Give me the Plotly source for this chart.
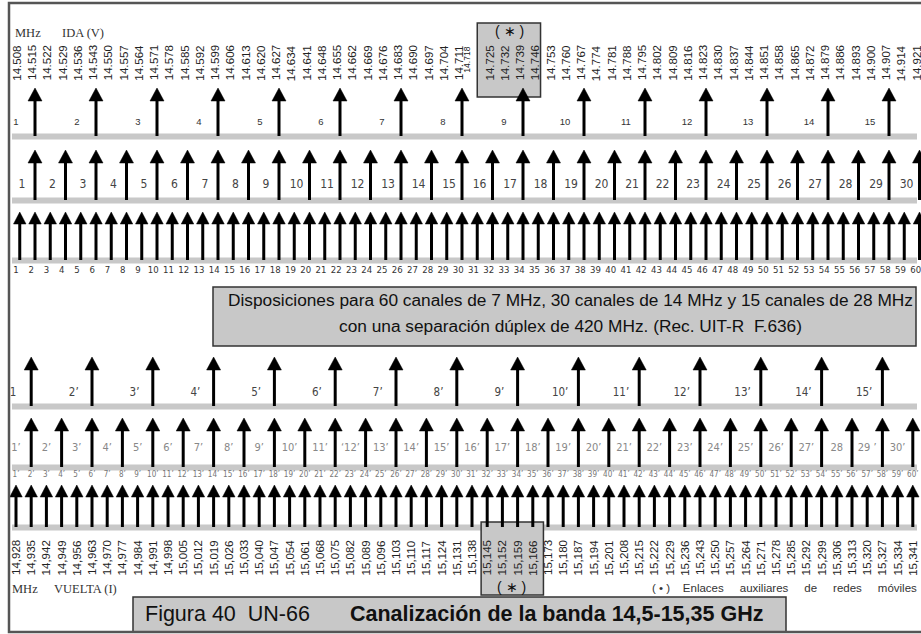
import plotly.graph_objects as go

# DATA ########################################################################
# grid of 7 MHz slots, go (IDA) and return (VUELTA) half-bands, GHz
ida_freq = [14.508, 14.515, 14.522, 14.529, 14.536, 14.543, 14.550, 14.557, 14.564, 14.571,
            14.578, 14.585, 14.592, 14.599, 14.606, 14.613, 14.620, 14.627, 14.634, 14.641,
            14.648, 14.655, 14.662, 14.669, 14.676, 14.683, 14.690, 14.697, 14.704, 14.711,
            14.718, 14.725, 14.732, 14.739, 14.746, 14.753, 14.760, 14.767, 14.774, 14.781,
            14.788, 14.795, 14.802, 14.809, 14.816, 14.823, 14.830, 14.837, 14.844, 14.851,
            14.858, 14.865, 14.872, 14.879, 14.886, 14.893, 14.900, 14.907, 14.914, 14.921]
vuelta_freq = [14.928, 14.935, 14.942, 14.949, 14.956, 14.963, 14.970, 14.977, 14.984, 14.991,
               14.998, 15.005, 15.012, 15.019, 15.026, 15.033, 15.040, 15.047, 15.054, 15.061,
               15.068, 15.075, 15.082, 15.089, 15.096, 15.103, 15.110, 15.117, 15.124, 15.131,
               15.138, 15.145, 15.152, 15.159, 15.166, 15.173, 15.180, 15.187, 15.194, 15.201,
               15.208, 15.215, 15.222, 15.229, 15.236, 15.243, 15.250, 15.257, 15.264, 15.271,
               15.278, 15.285, 15.292, 15.299, 15.306, 15.313, 15.320, 15.327, 15.334, 15.341]

# channel centres
ida_28 = [14.515, 14.543, 14.571, 14.599, 14.627, 14.655, 14.683, 14.711,
          14.739, 14.767, 14.795, 14.823, 14.851, 14.879, 14.907]
ida_14 = [14.515, 14.529, 14.543, 14.557, 14.571, 14.585, 14.599, 14.613, 14.627, 14.641,
          14.655, 14.669, 14.683, 14.697, 14.711, 14.725, 14.739, 14.753, 14.767, 14.781,
          14.795, 14.809, 14.823, 14.837, 14.851, 14.865, 14.879, 14.893, 14.907, 14.921]
ida_7 = ida_freq
vuelta_28 = [14.935, 14.963, 14.991, 15.019, 15.047, 15.075, 15.103, 15.131,
             15.159, 15.187, 15.215, 15.243, 15.271, 15.299, 15.327]
vuelta_14 = [14.935, 14.949, 14.963, 14.977, 14.991, 15.005, 15.019, 15.033, 15.047, 15.061,
             15.075, 15.089, 15.103, 15.117, 15.131, 15.145, 15.159, 15.173, 15.187, 15.201,
             15.215, 15.229, 15.243, 15.257, 15.271, 15.285, 15.299, 15.313, 15.327, 15.341]
vuelta_7 = vuelta_freq

# auxiliary links (*)
aux_ida = [14.725, 14.732, 14.739, 14.746]
aux_vuelta = [15.145, 15.152, 15.159, 15.166]

# channel labels
lab_28 = [str(n) for n in range(1, 16)]
lab_14 = [str(n) for n in range(1, 31)]
lab_7 = [str(n) for n in range(1, 61)]
lab_28_v = ["1", "2’", "3’", "4’", "5’", "6’", "7’", "8’", "9’", "10’", "11’", "12’", "13’", "14’", "15’"]
lab_14_v = ["1’", "2’", "3’", "4’", "5’", "6’", "7’", "8’", "9’", "10’", "11’", "‘12’", "13’", "14’", "15’",
            "16’", "17’", "18’", "19’", "20’", "21’", "22’", "23’", "24’", "25’", "26’", "27’", "28", "29 ’", "30’"]
lab_7_v = [str(n) + "’" for n in range(1, 61)]

title_1 = "Disposiciones para 60 canales de 7 MHz, 30 canales de 14 MHz y 15 canales de 28 MHz"
title_2 = "con una separación dúplex de 420 MHz. (Rec. UIT-R  F.636)"
caption_1 = "Figura 40  UN-66"
caption_2 = "Canalización de la banda 14,5-15,35 GHz"
note = "( • )    Enlaces     auxiliares     de     redes     móviles"
###############################################################################

W, H = 921, 634
STEP = 0.007
PPU_TOP = 15.25 / STEP   # pixels per GHz, upper half
PPU_BOT = 15.2 / STEP    # pixels per GHz, lower half
range_top = [ida_freq[0] - 19.75 / PPU_TOP, ida_freq[0] + (W - 19.75) / PPU_TOP]
range_bot = [vuelta_freq[0] - 16 / PPU_BOT, vuelta_freq[0] + (W - 16) / PPU_BOT]

SANS = "Liberation Sans, Arial, sans-serif"
NARROW = "Liberation Sans Narrow, DejaVu Sans Condensed, Arial Narrow, sans-serif"
SERIF = "Liberation Serif, Times New Roman, serif"
GREY = "#c8c8c8"

fig = go.Figure()


def arrows(xs, tip, base, head_h, head_w, axis, ppu, shaft_w=3):
    hw = head_w / 2 / ppu
    sx, sy, hx, hy = [], [], [], []
    for x in xs:
        sx += [x, x, None]
        sy += [base, tip + head_h - 1, None]
        hx += [x - hw, x, x + hw, x - hw, None]
        hy += [tip + head_h, tip, tip + head_h, tip + head_h, None]
    fig.add_trace(go.Scatter(x=sx, y=sy, xaxis=axis, mode="lines",
                             line=dict(color="black", width=shaft_w),
                             hoverinfo="skip", showlegend=False))
    fig.add_trace(go.Scatter(x=hx, y=hy, xaxis=axis, mode="lines", fill="toself",
                             fillcolor="black", line=dict(color="black", width=0.5),
                             hoverinfo="skip", showlegend=False))


def labels(xs, texts, y, axis, size, color, family=NARROW, shift=0.0):
    fig.add_trace(go.Scatter(x=[x + shift * STEP for x in xs], y=[y] * len(xs), xaxis=axis,
                             mode="text", text=texts, cliponaxis=False,
                             textfont=dict(family=family, size=size, color=color),
                             hoverinfo="skip", showlegend=False))


# grey bars under each row of arrows
shapes = []
for yb in [136.5, 200.5, 260.5, 406.5, 467.5, 527.5]:
    shapes.append(dict(type="line", xref="paper", yref="y", x0=12 / W, x1=917 / W,
                       y0=yb, y1=yb, line=dict(color=GREY, width=6), layer="below"))

# boxes for the auxiliary links
shapes.append(dict(type="rect", xref="x", yref="y",
                   x0=aux_ida[0] - 1.0 * STEP, x1=aux_ida[-1] + 0.15 * STEP, y0=23, y1=97,
                   fillcolor=GREY, line=dict(color="#333", width=1.5), layer="below"))
shapes.append(dict(type="rect", xref="x2", yref="y",
                   x0=aux_vuelta[0] - 0.4 * STEP, x1=aux_vuelta[-1] + 0.7 * STEP, y0=522, y1=595,
                   fillcolor=GREY, line=dict(color="#333", width=1.5), layer="below"))

# middle title box and caption box
shapes.append(dict(type="rect", xref="paper", yref="y", x0=213 / W, x1=916 / W, y0=287, y1=346,
                   fillcolor=GREY, line=dict(color="#333", width=1.5), layer="below"))
shapes.append(dict(type="rect", xref="paper", yref="y", x0=133 / W, x1=786 / W, y0=597, y1=632,
                   fillcolor=GREY, line=dict(color="#333", width=1.5), layer="below"))
# outer frame
shapes.append(dict(type="rect", xref="paper", yref="y", x0=9 / W, x1=1.02, y0=3, y1=632,
                   line=dict(color="#555", width=2.5), layer="above"))

# UPPER HALF (IDA) ############################################################
arrows(ida_28, 88, 136, 13, 14, "x", PPU_TOP)
arrows(ida_14, 150, 200, 13, 14, "x", PPU_TOP)
arrows(ida_7, 212, 260, 12, 12.5, "x", PPU_TOP)
labels(ida_28, lab_28, 123, "x", 9.5, "#333", family=SANS, shift=-1.25)
labels(ida_14, lab_14, 185, "x", 12, "#444", shift=-0.85)
labels(ida_7, lab_7, 271, "x", 9.5, "#333", shift=-0.25)

# LOWER HALF (VUELTA) #########################################################
arrows(vuelta_28, 357, 406, 13, 14, "x2", PPU_BOT)
arrows(vuelta_14, 418, 467, 13, 14, "x2", PPU_BOT)
arrows(vuelta_7, 485, 527, 12, 12.5, "x2", PPU_BOT)
labels(vuelta_28, lab_28_v, 393, "x2", 11.5, "#444", shift=-1.2)
labels(vuelta_14, lab_14_v, 448, "x2", 11, "#888", shift=-1.0)
labels(vuelta_7, lab_7_v, 475, "x2", 8, "#777")

# frequency labels, rotated
ann = []
small = ida_freq.index(aux_ida[0]) - 1  # squeezed label just before the box
for i, f in enumerate(ida_freq):
    ann.append(dict(x=f - (0.5 * STEP if i == small else 0), xref="x", xshift=-3,
                    y=60 if i == small else 63, yref="y", showarrow=False,
                    text=f"{f:.3f}", textangle=-90,
                    font=dict(family=SANS, size=8.5 if i == small else 11.5, color="#222")))
for f in vuelta_freq:
    ann.append(dict(x=f, xref="x2", y=558, yref="y", showarrow=False,
                    text=f"{f:.3f}".replace(".", ","), textangle=-90,
                    font=dict(family=SANS, size=11.5, color="#222")))

# asterisks on the auxiliary boxes
ann.append(dict(x=(aux_ida[0] + aux_ida[-1]) / 2 - 0.4 * STEP, xref="x", y=31, yref="y",
                showarrow=False, text="( ∗ )", font=dict(family=SANS, size=14, color="#111")))
ann.append(dict(x=(aux_vuelta[0] + aux_vuelta[-1]) / 2 + 0.1 * STEP, xref="x2", y=587, yref="y",
                showarrow=False, text="( ∗ )", font=dict(family=SANS, size=14, color="#111")))

# texts
ann += [
    dict(x=13 / W, xref="paper", y=33, yref="y", xanchor="left", showarrow=False,
         text="MHz", font=dict(family=SERIF, size=12.5, color="#333")),
    dict(x=60 / W, xref="paper", y=33, yref="y", xanchor="left", showarrow=False,
         text="IDA (V)", font=dict(family=SERIF, size=12.5, color="#333")),
    dict(x=10 / W, xref="paper", y=589, yref="y", xanchor="left", showarrow=False,
         text="MHz", font=dict(family=SERIF, size=12.5, color="#333")),
    dict(x=52 / W, xref="paper", y=589, yref="y", xanchor="left", showarrow=False,
         text="VUELTA (I)", font=dict(family=SERIF, size=12.5, color="#333")),
    dict(x=570 / W, xref="paper", y=300, yref="y", showarrow=False,
         text=title_1, font=dict(family=SANS, size=17.3, color="#111")),
    dict(x=570 / W, xref="paper", y=326, yref="y", showarrow=False,
         text=title_2, font=dict(family=SANS, size=17.3, color="#111")),
    dict(x=143 / W, xref="paper", y=614, yref="y", xanchor="left", showarrow=False,
         text=caption_1, font=dict(family=SANS, size=21.5, color="#111")),
    dict(x=348 / W, xref="paper", y=614, yref="y", xanchor="left", showarrow=False,
         text="<b>" + caption_2 + "</b>", font=dict(family=SANS, size=21.5, color="#111")),
    dict(x=919 / W, xref="paper", y=588, yref="y", xanchor="right", showarrow=False,
         text=note, font=dict(family=SANS, size=11.5, color="#333")),
]

fig.update_layout(
    width=W, height=H, autosize=False,
    margin=dict(l=0, r=0, t=0, b=0),
    paper_bgcolor="white", plot_bgcolor="white",
    xaxis=dict(range=range_top, visible=False, fixedrange=True),
    xaxis2=dict(range=range_bot, visible=False, overlaying="x", anchor="y", fixedrange=True),
    yaxis=dict(range=[H, 0], visible=False, fixedrange=True),
    shapes=shapes, annotations=ann, showlegend=False,
)

# the page body has a default 8px margin; drop it so the figure fills the window
fig.write_html("out.html", config={"displayModeBar": False},
               post_script="document.body.style.margin='0px';")
